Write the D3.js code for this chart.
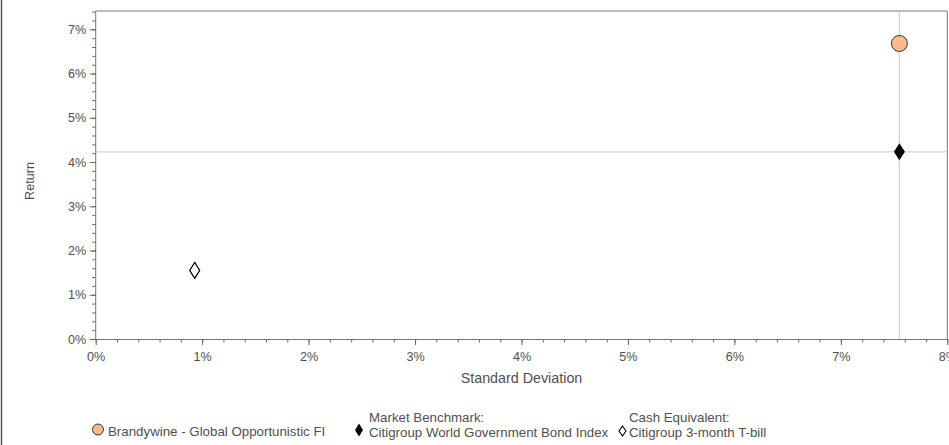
<!DOCTYPE html>
<html>
<head>
<meta charset="utf-8">
<script src="https://cdn.jsdelivr.net/npm/d3@7"></script>
<style>
  html, body { margin: 0; padding: 0; background: #fff; }
  svg { display: block; font-family: "Liberation Sans", Arial, sans-serif; }
</style>
</head>
<body>
<svg id="chart" width="949" height="445"></svg>
<script>
// Risk / return points (standard deviation %, return %)
const seriesNames = ["Brandywine - Global Opportunistic FI", "Market Benchmark", "Cash Equivalent"];
const stdDev = [7.55, 7.55, 0.93];
const returns = [6.68, 4.23, 1.55];
const legendLines = [
  ["Brandywine - Global Opportunistic FI"],
  ["Market Benchmark:", "Citigroup World Government Bond Index"],
  ["Cash Equivalent:", "Citigroup 3-month T-bill"]
];
const xTicks = [0, 1, 2, 3, 4, 5, 6, 7, 8];
const yTicks = [0, 1, 2, 3, 4, 5, 6, 7];

const svg = d3.select("#chart");
const W = 949, H = 445;
const plot = { left: 95.7, right: 947.3, top: 11, bottom: 339 };
const textColor = "#505050";
const tickSize = 12.6;

const x = d3.scaleLinear().domain([0, 8]).range([plot.left, plot.right]);
const y = d3.scaleLinear().domain([0, 7.414]).range([plot.bottom, plot.top]);

// outer left rule
svg.append("line").attr("x1", 1.5).attr("x2", 1.5).attr("y1", 0).attr("y2", H)
  .attr("stroke", "#555").attr("stroke-width", 1.5);

// plot frame (top / right)
svg.append("path")
  .attr("d", `M${plot.left},${plot.top}H${plot.right}V${plot.bottom}`)
  .attr("fill", "none").attr("stroke", "#777").attr("stroke-width", 1);

// benchmark crosshair
svg.append("line")
  .attr("x1", x(stdDev[1])).attr("x2", x(stdDev[1]))
  .attr("y1", plot.top).attr("y2", plot.bottom)
  .attr("stroke", "#d4d4d4").attr("stroke-width", 1.3);
svg.append("line")
  .attr("x1", plot.left).attr("x2", plot.right)
  .attr("y1", y(returns[1])).attr("y2", y(returns[1]))
  .attr("stroke", "#d4d4d4").attr("stroke-width", 1.3);

// minor ticks every 0.2%
const xMinor = d3.range(0, 8.001, 0.2);
const yMinor = d3.range(0, 7.41, 0.2);

svg.append("g").attr("transform", `translate(0,${plot.bottom})`)
  .call(d3.axisBottom(x).tickValues(xMinor).tickSize(3.5).tickFormat(""))
  .call(g => g.select(".domain").remove())
  .call(g => g.selectAll("line").attr("stroke", "#666"));
const xMajor = svg.append("g").attr("transform", `translate(0,${plot.bottom})`)
  .call(d3.axisBottom(x).tickValues(xTicks).tickSize(6).tickSizeOuter(0).tickFormat(d => d + "%"));
xMajor.select(".domain").attr("stroke", "#777");
xMajor.selectAll("line").attr("stroke", "#666");
xMajor.selectAll("text").attr("fill", textColor).attr("font-size", tickSize)
  .attr("font-family", "Liberation Sans, Arial, sans-serif").attr("y", 21.5).attr("dy", 0);

svg.append("g").attr("transform", `translate(${plot.left},0)`)
  .call(d3.axisLeft(y).tickValues(yMinor).tickSize(3.5).tickFormat(""))
  .call(g => g.select(".domain").remove())
  .call(g => g.selectAll("line").attr("stroke", "#666"));
const yMajor = svg.append("g").attr("transform", `translate(${plot.left},0)`)
  .call(d3.axisLeft(y).tickValues(yTicks).tickSize(6).tickSizeOuter(0).tickFormat(d => d + "%"));
yMajor.select(".domain").attr("d", `M0,${plot.top}V${plot.bottom}`).attr("stroke", "#777");
yMajor.selectAll("line").attr("stroke", "#666");
yMajor.selectAll("text").attr("fill", textColor).attr("font-size", tickSize)
  .attr("font-family", "Liberation Sans, Arial, sans-serif").attr("x", -9.5);

// axis titles
svg.append("text").attr("x", (plot.left + plot.right) / 2).attr("y", 383)
  .attr("text-anchor", "middle").attr("fill", textColor).attr("font-size", 14.3)
  .text("Standard Deviation");
svg.append("text").attr("transform", `translate(34,181) rotate(-90)`)
  .attr("text-anchor", "middle").attr("fill", textColor).attr("font-size", 12.6)
  .text("Return");

function diamond(w, h) {
  return `M0,${-h / 2}L${w / 2},0L0,${h / 2}L${-w / 2},0Z`;
}

// points
svg.append("circle").attr("cx", x(stdDev[0])).attr("cy", y(returns[0])).attr("r", 8)
  .attr("fill", "#fdb98c").attr("stroke", "#333").attr("stroke-width", 1);
svg.append("path").attr("d", diamond(11, 17))
  .attr("transform", `translate(${x(stdDev[1])},${y(returns[1])})`)
  .attr("fill", "#000");
svg.append("path").attr("d", diamond(10, 16))
  .attr("transform", `translate(${x(stdDev[2])},${y(returns[2])})`)
  .attr("fill", "#fff").attr("stroke", "#000").attr("stroke-width", 1.2);

// legend
const lg = svg.append("g");
const legendSize = 13.3;
lg.append("circle").attr("cx", 98).attr("cy", 429.5).attr("r", 5.5)
  .attr("fill", "#fdb98c").attr("stroke", "#333");
lg.append("text").attr("x", 108).attr("y", 436).attr("font-size", legendSize).attr("fill", textColor)
  .text(legendLines[0][0]);

lg.append("path").attr("d", diamond(8, 13)).attr("transform", "translate(359,430)").attr("fill", "#000");
legendLines[1].forEach((t, i) => {
  lg.append("text").attr("x", 369).attr("y", 422 + i * 14.5).attr("font-size", legendSize).attr("fill", textColor).text(t);
});

lg.append("path").attr("d", diamond(7, 10)).attr("transform", "translate(622.5,431)")
  .attr("fill", "#fff").attr("stroke", "#000").attr("stroke-width", 1.1);
legendLines[2].forEach((t, i) => {
  lg.append("text").attr("x", 629).attr("y", 422 + i * 14.5).attr("font-size", legendSize).attr("fill", textColor).text(t);
});
</script>
</body>
</html>
